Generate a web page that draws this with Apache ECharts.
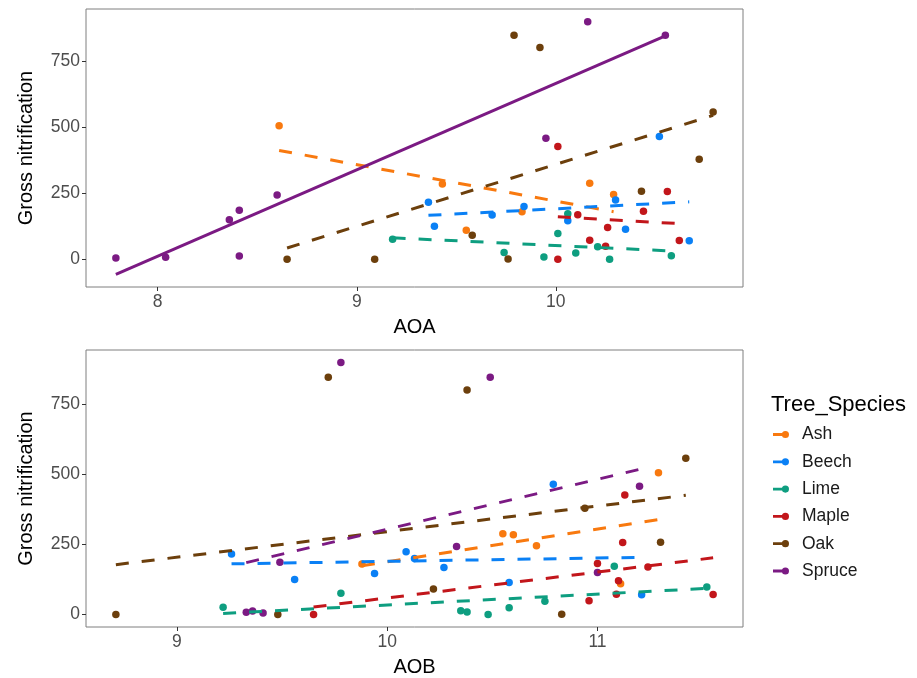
<!DOCTYPE html>
<html>
<head>
<meta charset="utf-8">
<script src="https://cdn.jsdelivr.net/npm/echarts@6/dist/echarts.min.js"></script>
<style>
html,body{margin:0;padding:0;background:#fff;}
#chart{width:917px;height:678px;}
</style>
</head>
<body>
<div id="chart"></div>
<script>
// ---- data ----
const species = ['Ash', 'Beech', 'Lime', 'Maple', 'Oak', 'Spruce'];

// Gross nitrification per sample, with the matching AOA and AOB values
const gnAsh = [506, 285, 288, 110, 180, 245];
const aoaAsh = [8.61, 9.43, 10.17, 9.55, 9.83, 10.29];
const aobAsh = [11.29, 10.60, 10.55, 11.11, 9.88, 10.71];

const gnBeech = [216, 125, 168, 200, 146, 224, 114, 465, 70];
const aoaBeech = [9.36, 9.39, 9.68, 9.84, 10.06, 10.30, 10.35, 10.52, 10.67];
const aobBeech = [9.26, 9.56, 10.27, 10.13, 9.94, 10.09, 10.58, 10.79, 11.21];

const gnLime = [76, 26, 24, 9, 98, 172, 47, 0, 13];
const aoaLime = [9.18, 9.74, 10.10, 9.94, 10.01, 10.06, 10.21, 10.27, 10.58];
const aobLime = [9.78, 9.22, 10.58, 10.38, 11.52, 11.08, 10.75, 10.48, 10.35];

const gnMaple = [427, 0, 169, 72, 71, 49, 120, 182, 257];
const aoaMaple = [10.01, 10.01, 10.11, 10.17, 10.62, 10.25, 10.26, 10.44, 10.56];
const aobMaple = [11.13, 9.65, 11.24, 11.09, 11.55, 10.96, 11.10, 11.00, 11.12];

const gnOak = [0, 0, 1, 848, 802, 91, 258, 379, 558];
const aoaOak = [8.65, 9.09, 9.76, 9.79, 9.92, 9.58, 10.43, 10.72, 10.79];
const aobOak = [8.71, 9.48, 10.83, 9.72, 10.38, 10.22, 11.30, 10.94, 11.42];

const gnSpruce = [5, 8, 12, 150, 186, 243, 458, 900, 848];
const aoaSpruce = [7.79, 8.04, 8.41, 8.36, 8.41, 8.60, 9.95, 10.16, 10.55];
const aobSpruce = [9.41, 9.33, 9.36, 11.00, 9.49, 10.33, 11.20, 9.78, 10.49];

// fitted lines drawn solid (others dashed)
const solidAOA = ['Spruce'];
const solidAOB = [];

// tick labels
const ticksAOA = [8, 9, 10];
const ticksAOB = [9, 10, 11];
const ticksGN = [0, 250, 500, 750];

// ---- styling ----
const colors = {
  Ash: '#F8790F', Beech: '#0A80F5', Lime: '#0E9E80',
  Maple: '#C2161B', Oak: '#6C3F0C', Spruce: '#7B1A83'
};
const FONT = '"Liberation Sans", Arial, Helvetica, sans-serif';

const gnList = [gnAsh, gnBeech, gnLime, gnMaple, gnOak, gnSpruce];
const aoaList = [aoaAsh, aoaBeech, aoaLime, aoaMaple, aoaOak, aoaSpruce];
const aobList = [aobAsh, aobBeech, aobLime, aobMaple, aobOak, aobSpruce];

// least-squares line over the x range of each group (as geom_smooth(method = "lm"))
function lmLine(xs, ys) {
  const n = xs.length;
  const mx = xs.reduce((a, b) => a + b, 0) / n;
  const my = ys.reduce((a, b) => a + b, 0) / n;
  let sxy = 0, sxx = 0;
  for (let i = 0; i < n; i++) {
    sxy += (xs[i] - mx) * (ys[i] - my);
    sxx += (xs[i] - mx) * (xs[i] - mx);
  }
  const b = sxy / sxx, a = my - b * mx;
  const x0 = Math.min(...xs), x1 = Math.max(...xs);
  return [[x0, a + b * x0], [x1, a + b * x1]];
}

function expand(vals) {
  const lo = Math.min(...vals), hi = Math.max(...vals);
  const pad = (hi - lo) * 0.05;
  return [lo - pad, hi + pad];
}

const series = [];
const xRanges = [], yRanges = [];
[aoaList, aobList].forEach((xList, p) => {
  const solid = p === 0 ? solidAOA : solidAOB;
  const allX = [], allY = [];
  const lines = [];
  species.forEach((sp, i) => {
    const pts = xList[i].map((x, k) => [x, gnList[i][k]]);
    pts.forEach(d => { allX.push(d[0]); allY.push(d[1]); });
    series.push({
      name: sp, type: 'scatter', xAxisIndex: p, yAxisIndex: p,
      data: pts, symbolSize: 7.5, z: 2,
      itemStyle: { color: colors[sp], opacity: 1 },
      emphasis: { disabled: true }
    });
    const ln = lmLine(xList[i], gnList[i]);
    ln.forEach(d => allY.push(d[1]));
    lines.push({
      name: sp, type: 'line', xAxisIndex: p, yAxisIndex: p,
      data: ln, showSymbol: false, symbol: 'none', z: 3,
      lineStyle: {
        color: colors[sp], width: 3,
        type: solid.includes(sp) ? 'solid' : [13, 13], cap: 'butt'
      },
      itemStyle: { color: colors[sp] },
      emphasis: { disabled: true }, silent: true
    });
  });
  series.push(...lines);
  xRanges.push(expand(allX));
  yRanges.push(expand(allY));
});

const GRID_L = 86, GRID_W = 657, GRID_H = 278;
const grids = [
  { left: GRID_L, top: 9, width: GRID_W, height: GRID_H },
  { left: GRID_L, top: 350, width: GRID_W, height: GRID_H }
].map(g => Object.assign(g, {
  show: true, borderColor: '#7F7F7F', borderWidth: 1, backgroundColor: 'transparent',
  containLabel: false
}));

function xAxisFor(p, name, ticks) {
  return {
    type: 'value', gridIndex: p, min: xRanges[p][0], max: xRanges[p][1],
    position: 'bottom',
    name: name, nameLocation: 'middle', nameGap: 30,
    nameTextStyle: { fontSize: 20, color: '#000', fontFamily: FONT },
    axisLine: { show: false, onZero: false },
    axisTick: { show: true, length: 4, inside: false, customValues: ticks, lineStyle: { color: '#333', width: 1 } },
    axisLabel: { customValues: ticks, fontSize: 17.5, color: '#4D4D4D', margin: 6, fontFamily: FONT },
    splitLine: { show: false }
  };
}
function yAxisFor(p) {
  return {
    type: 'value', gridIndex: p, min: yRanges[p][0], max: yRanges[p][1],
    position: 'left',
    name: 'Gross nitrification', nameLocation: 'middle', nameGap: 50, nameRotate: 90,
    nameTextStyle: { fontSize: 20, color: '#000', fontFamily: FONT },
    axisLine: { show: false, onZero: false },
    axisTick: { show: true, length: 4, inside: false, customValues: ticksGN, lineStyle: { color: '#333', width: 1 } },
    axisLabel: { customValues: ticksGN, fontSize: 17.5, color: '#4D4D4D', margin: 6, fontFamily: FONT },
    splitLine: { show: false }
  };
}

const legendIcon = 'path://M0,2.6L12,2.6L12,5.4L0,5.4Z M16.1,4A3.6,3.6,0,1,1,8.9,4A3.6,3.6,0,1,1,16.1,4Z';

const chart = echarts.init(document.getElementById('chart'), null, { renderer: 'canvas' });
chart.setOption({
  backgroundColor: '#fff',
  animation: false,
  textStyle: { fontFamily: FONT },
  grid: grids,
  xAxis: [xAxisFor(0, 'AOA', ticksAOA), xAxisFor(1, 'AOB', ticksAOB)],
  yAxis: [yAxisFor(0), yAxisFor(1)],
  legend: {
    orient: 'vertical', left: 773, top: 425.5, padding: 0,
    data: species.map(s => ({ name: s, icon: legendIcon })),
    itemWidth: 16, itemHeight: 7.2, itemGap: 9.3,
    selectedMode: false,
    textStyle: { fontSize: 17.5, color: '#1A1A1A', fontFamily: FONT, lineHeight: 18, padding: [0, 0, 0, 8] }
  },
  graphic: [{
    type: 'text', left: 771, top: 394,
    style: { text: 'Tree_Species', fontSize: 22, fill: '#000', fontFamily: FONT }
  }],
  series: series
});
</script>
</body>
</html>
